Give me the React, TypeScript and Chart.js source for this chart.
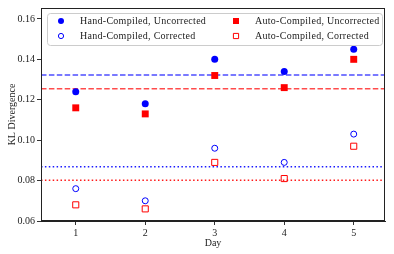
import React, { useEffect, useRef } from "react";
import { Chart, registerables } from "chart.js";

Chart.register(...registerables);

const days = [1, 2, 3, 4, 5];
const handUncorrected = [0.124, 0.118, 0.14, 0.134, 0.145];
const autoUncorrected = [0.116, 0.113, 0.132, 0.126, 0.14];
const handCorrected = [0.076, 0.07, 0.096, 0.089, 0.103];
const autoCorrected = [0.068, 0.066, 0.089, 0.081, 0.097];
// horizontal reference lines (means)
const handUncorrectedMean = 0.1322;
const autoUncorrectedMean = 0.1254;
const handCorrectedMean = 0.0868;
const autoCorrectedMean = 0.0802;
const yTicks = [0.06, 0.08, 0.1, 0.12, 0.14, 0.16];
const xTicks = [1, 2, 3, 4, 5];
const X_MIN = 0.5;
const X_MAX = 5.45;
const Y_MIN = 0.06;
const Y_MAX = 0.1654;

const FONT = "'Liberation Serif', 'DejaVu Serif', serif";
const BLUE = "#0000ff";
const RED = "#ff0000";

const legendItems = [
  { label: "Hand-Compiled, Uncorrected", color: BLUE, shape: "circle", filled: true },
  { label: "Hand-Compiled, Corrected", color: BLUE, shape: "circle", filled: false },
  { label: "Auto-Compiled, Uncorrected", color: RED, shape: "rect", filled: true },
  { label: "Auto-Compiled, Corrected", color: RED, shape: "rect", filled: false },
];

const framePlugin = {
  id: "frame",
  afterDatasetsDraw(chart: any) {
    const { ctx, chartArea: a } = chart;
    ctx.save();
    ctx.strokeStyle = "#222";
    ctx.lineWidth = 1;
    ctx.strokeRect(Math.round(a.left) + 0.5, Math.round(a.top) + 0.5, Math.round(a.right - a.left) - 1, Math.round(a.bottom - a.top) - 1);
    ctx.restore();
  },
};

const legendPlugin = {
  id: "customLegend",
  afterDraw(chart: any) {
    const { ctx, chartArea: a } = chart;
    const bx = a.left + 6;
    const by = a.top + 5;
    const bw = a.right - a.left - 9;
    const bh = 32;
    ctx.save();
    ctx.beginPath();
    (ctx as any).roundRect(bx + 0.5, by + 0.5, bw, bh, 3);
    ctx.fillStyle = "rgba(255,255,255,0.8)";
    ctx.fill();
    ctx.strokeStyle = "#cccccc";
    ctx.lineWidth = 1;
    ctx.stroke();
    ctx.font = `10px ${FONT}`;
    (ctx as any).letterSpacing = "0.28px";
    ctx.textBaseline = "middle";
    ctx.textAlign = "left";
    const cols = [bx + 14, bx + 189];
    const rows = [by + 8, by + 23];
    legendItems.forEach((it, i) => {
      const col = Math.floor(i / 2);
      const row = i % 2;
      const mx = cols[col];
      const my = rows[row];
      ctx.beginPath();
      if (it.shape === "circle") {
        ctx.arc(mx, my, it.filled ? 3 : 2.6, 0, Math.PI * 2);
      } else {
        const s = it.filled ? 3 : 2.6;
        ctx.rect(mx - s, my - s, 2 * s, 2 * s);
      }
      if (it.filled) {
        ctx.fillStyle = it.color;
        ctx.fill();
      } else {
        ctx.strokeStyle = it.color;
        ctx.lineWidth = 1;
        ctx.stroke();
      }
      ctx.fillStyle = "#222";
      ctx.fillText(it.label, mx + 19, my + 0.5);
    });
    ctx.restore();
  },
};

function hline(y: number, color: string, dash: number[]) {
  return {
    type: "line" as const,
    data: [
      { x: X_MIN, y },
      { x: X_MAX, y },
    ],
    borderColor: color,
    borderWidth: 1.5,
    borderDash: dash,
    pointRadius: 0,
    fill: false,
    order: 10,
  };
}

export default function App() {
  const ref = useRef<HTMLCanvasElement>(null);
  useEffect(() => {
    if (!ref.current) return;
    const chart = new Chart(ref.current, {
      type: "scatter",
      data: {
        datasets: [
          {
            label: "Hand-Compiled, Uncorrected",
            data: days.map((d, i) => ({ x: d, y: handUncorrected[i] })),
            pointStyle: "circle",
            pointRadius: 3.5,
            backgroundColor: BLUE,
            borderColor: BLUE,
            borderWidth: 0,
            order: 1,
          },
          {
            label: "Auto-Compiled, Uncorrected",
            data: days.map((d, i) => ({ x: d, y: autoUncorrected[i] })),
            pointStyle: "rect",
            pointRadius: 4.9,
            backgroundColor: RED,
            borderColor: RED,
            borderWidth: 0,
            order: 1,
          },
          {
            label: "Hand-Compiled, Corrected",
            data: days.map((d, i) => ({ x: d, y: handCorrected[i] })),
            pointStyle: "circle",
            pointRadius: 3,
            backgroundColor: "rgba(255,255,255,0)",
            borderColor: BLUE,
            borderWidth: 1,
            order: 1,
          },
          {
            label: "Auto-Compiled, Corrected",
            data: days.map((d, i) => ({ x: d, y: autoCorrected[i] })),
            pointStyle: "rect",
            pointRadius: 4.3,
            backgroundColor: "rgba(255,255,255,0)",
            borderColor: RED,
            borderWidth: 1,
            order: 1,
          },
          hline(handUncorrectedMean, "rgba(0,0,255,0.7)", [5.5, 2.4]),
          hline(autoUncorrectedMean, "rgba(255,0,0,0.7)", [5.5, 2.4]),
          hline(handCorrectedMean, "rgba(0,0,255,0.9)", [1.5, 2.4]),
          hline(autoCorrectedMean, "rgba(255,0,0,0.9)", [1.5, 2.4]),
        ] as any,
      },
      options: {
        animation: false,
        responsive: false,
        devicePixelRatio: 1,
        layout: { padding: { top: 5, right: 9, left: 0, bottom: 0 } },
        plugins: { legend: { display: false }, tooltip: { enabled: false } },
        scales: {
          x: {
            type: "linear",
            min: X_MIN,
            max: X_MAX,
            afterBuildTicks: (s: any) => {
              s.ticks = xTicks.map((v) => ({ value: v }));
            },
            afterFit: (s: any) => {
              s.height = 33;
            },
            ticks: {
              color: "#222",
              font: { family: FONT, size: 10 },
              padding: 2,
              maxRotation: 0,
              autoSkip: false,
              callback: (v: any) => String(v),
            },
            grid: { display: true, drawOnChartArea: false, drawTicks: true, tickLength: 4, color: "#333" },
            border: { display: true, color: "#222" },
            title: { display: true, text: "Day", color: "#222", font: { family: FONT, size: 10 }, padding: { top: 0, bottom: 5 } },
          },
          y: {
            type: "linear",
            min: Y_MIN,
            max: Y_MAX,
            afterBuildTicks: (s: any) => {
              s.ticks = yTicks.map((v) => ({ value: v }));
            },
            afterFit: (s: any) => {
              s.width = 41;
            },
            ticks: {
              color: "#222",
              font: { family: FONT, size: 10 },
              padding: 2,
              autoSkip: false,
              callback: (v: any) => Number(v).toFixed(2),
            },
            grid: { display: true, drawOnChartArea: false, drawTicks: true, tickLength: 4, color: "#333" },
            border: { display: true, color: "#222" },
            title: { display: true, text: "KL Divergence", color: "#222", font: { family: FONT, size: 10 }, padding: { top: 6, bottom: 0 } },
          },
        },
      } as any,
      plugins: [framePlugin, legendPlugin],
    });
    return () => chart.destroy();
  }, []);
  return (
    <div style={{ position: "fixed", left: 0, top: 0, width: 394, height: 254, background: "#fff" }}>
      <canvas ref={ref} width={394} height={254} style={{ width: 394, height: 254, display: "block" }} />
    </div>
  );
}
